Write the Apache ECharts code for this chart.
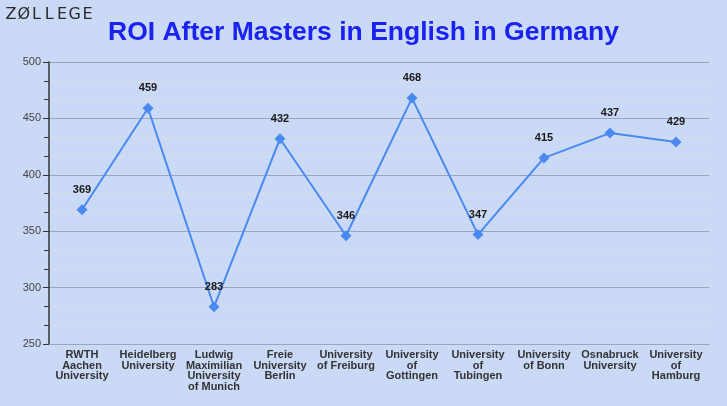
<!DOCTYPE html>
<html>
<head>
<meta charset="utf-8">
<script src="https://cdn.jsdelivr.net/npm/echarts@6/dist/echarts.min.js"></script>
<style>
  html, body { margin: 0; padding: 0; background: #c9d9f6; }
  #chart { width: 727px; height: 406px; }
</style>
</head>
<body>
<div id="chart"></div>
<script>
  var universities = [
    'RWTH\nAachen\nUniversity', 'Heidelberg\nUniversity', 'Ludwig\nMaximilian\nUniversity\nof Munich',
    'Freie\nUniversity\nBerlin', 'University\nof Freiburg', 'University\nof\nGottingen',
    'University\nof\nTubingen', 'University\nof Bonn', 'Osnabruck\nUniversity', 'University\nof\nHamburg'
  ]
  var roi = [369, 459, 283, 432, 346, 468, 347, 415, 437, 429]
  var yTicks = [250, 300, 350, 400, 450, 500]
  var logo = 'Z\u00d8LLEGE'

  // logo letters are spaced out, so draw them one by one (centred)
  var logoText = logo.split('').map(function (ch, i) {
    return {
      type: 'text',
      x: 11 + i * 12.75,
      y: 15,
      style: {
        text: ch, fill: '#2a2a2a', fontSize: 16, fontFamily: 'DejaVu Sans',
        align: 'center', verticalAlign: 'middle'
      }
    }
  })

  var chart = echarts.init(document.getElementById('chart'))
  chart.setOption({
    backgroundColor: '#c9d9f6',
    title: {
      text: 'ROI After Masters in English in Germany',
      left: 'center',
      top: 14,
      textStyle: { color: '#1a22f0', fontSize: 26.5, fontWeight: 'bold', fontFamily: 'Liberation Sans' }
    },
    graphic: logoText,
    grid: { left: 49, right: 18, top: 62, bottom: 62 },
    xAxis: {
      type: 'category',
      data: universities,
      axisLine: { lineStyle: { color: '#9aa6bb' } },
      axisTick: { show: false },
      axisLabel: {
        interval: 0,
        color: '#333',
        fontSize: 11,
        fontWeight: 'bold',
        fontFamily: 'Liberation Sans',
        lineHeight: 10.5,
        margin: 6
      }
    },
    yAxis: {
      type: 'value',
      min: yTicks[0],
      max: yTicks[yTicks.length - 1],
      interval: 50,
      axisLine: { show: true, lineStyle: { color: '#333', width: 1.5 } },
      axisTick: { show: true, length: 6, inside: false, lineStyle: { color: '#333' } },
      minorTick: { show: true, splitNumber: 3, length: 5, lineStyle: { color: '#333' } },
      splitLine: { lineStyle: { color: '#9aa6bb' } },
      minorSplitLine: { show: true, lineStyle: { color: '#d8dee8' } },
      axisLabel: { color: '#444', fontSize: 11, fontFamily: 'Liberation Sans' }
    },
    series: [{
      type: 'line',
      data: roi,
      symbol: 'diamond',
      symbolSize: 11,
      lineStyle: { color: '#4a8af0', width: 2 },
      itemStyle: { color: '#4a8af0' },
      label: {
        show: true,
        position: 'top',
        distance: 9,
        color: '#1a1a1a',
        fontSize: 11,
        fontWeight: 'bold',
        fontFamily: 'Liberation Sans'
      }
    }]
  })
</script>
</body>
</html>
